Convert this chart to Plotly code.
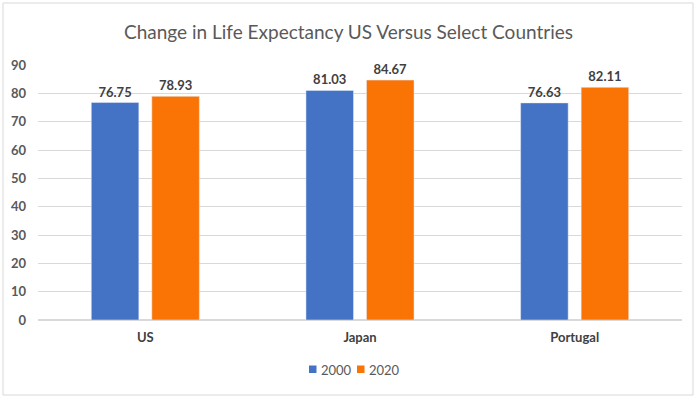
import plotly.graph_objects as go

countries = ["US", "Japan", "Portugal"]
y2000 = [76.75, 81.03, 76.63]
y2020 = [78.93, 84.67, 82.11]
yticks = [0, 10, 20, 30, 40, 50, 60, 70, 80, 90]
series_names = ["2000", "2020"]
colors = ["#4472C4", "#FA7305"]

FONT = "Lato, 'Open Sans', sans-serif"
L, R, T, B = 38, 15, 65, 79
W, H = 697, 399
pw, ph = W - L - R, H - T - B

def px(x):
    return (x - L) / pw

def py(y):
    return (H - B - y) / ph

fig = go.Figure()
for name, vals, col in zip(series_names, [y2000, y2020], colors):
    fig.add_bar(x=countries, y=vals, name=name, marker_color=col,
                text=[f"{v:.2f}" for v in vals], textposition="outside",
                textfont=dict(family=FONT, size=13, color="#404040", weight="bold"),
                cliponaxis=False, showlegend=False)

fig.update_layout(
    width=W, height=H,
    margin=dict(l=L, r=R, t=T, b=B),
    paper_bgcolor="white", plot_bgcolor="white",
    barmode="group", bargap=0.436, bargroupgap=0.215,
    title=dict(text="Change in Life Expectancy US Versus Select Countries",
               x=0.5, xanchor="center", y=1 - 32 / H, yanchor="middle",
               font=dict(family=FONT, size=19, color="#595959")),
    font=dict(family=FONT, color="#595959"),
    showlegend=False,
    xaxis=dict(showgrid=False, showline=False, ticks="", ticklabelstandoff=8,
               tickfont=dict(family=FONT, size=13, color="#404040", weight="bold")),
    yaxis=dict(range=[0, 90], tickvals=yticks, showgrid=True, gridcolor="#D9D9D9",
               zeroline=True, zerolinecolor="#D9D9D9", showline=False, ticks="",
               ticklabelstandoff=11,
               tickfont=dict(family=FONT, size=13, color="#595959", weight="bold")),
)
# chart border
fig.add_shape(type="rect", xref="paper", yref="paper",
              x0=px(3), x1=px(693), y0=py(395), y1=py(3),
              line=dict(color="#D9D9D9", width=1), layer="below")
# custom legend
leg_x = [309, 357]
for lx, name, col in zip(leg_x, series_names, colors):
    fig.add_shape(type="rect", xref="paper", yref="paper",
                  x0=px(lx), x1=px(lx + 7.5), y0=py(373), y1=py(365.5),
                  fillcolor=col, line=dict(width=0))
    fig.add_annotation(xref="paper", yref="paper", x=px(lx + 10), y=py(369.5),
                       xanchor="left", yanchor="middle", text=name, showarrow=False,
                       font=dict(family=FONT, size=13, color="#595959"))
fig.write_html("out.html", config={"displayModeBar": False},
               post_script="document.body.style.margin='0px';")
